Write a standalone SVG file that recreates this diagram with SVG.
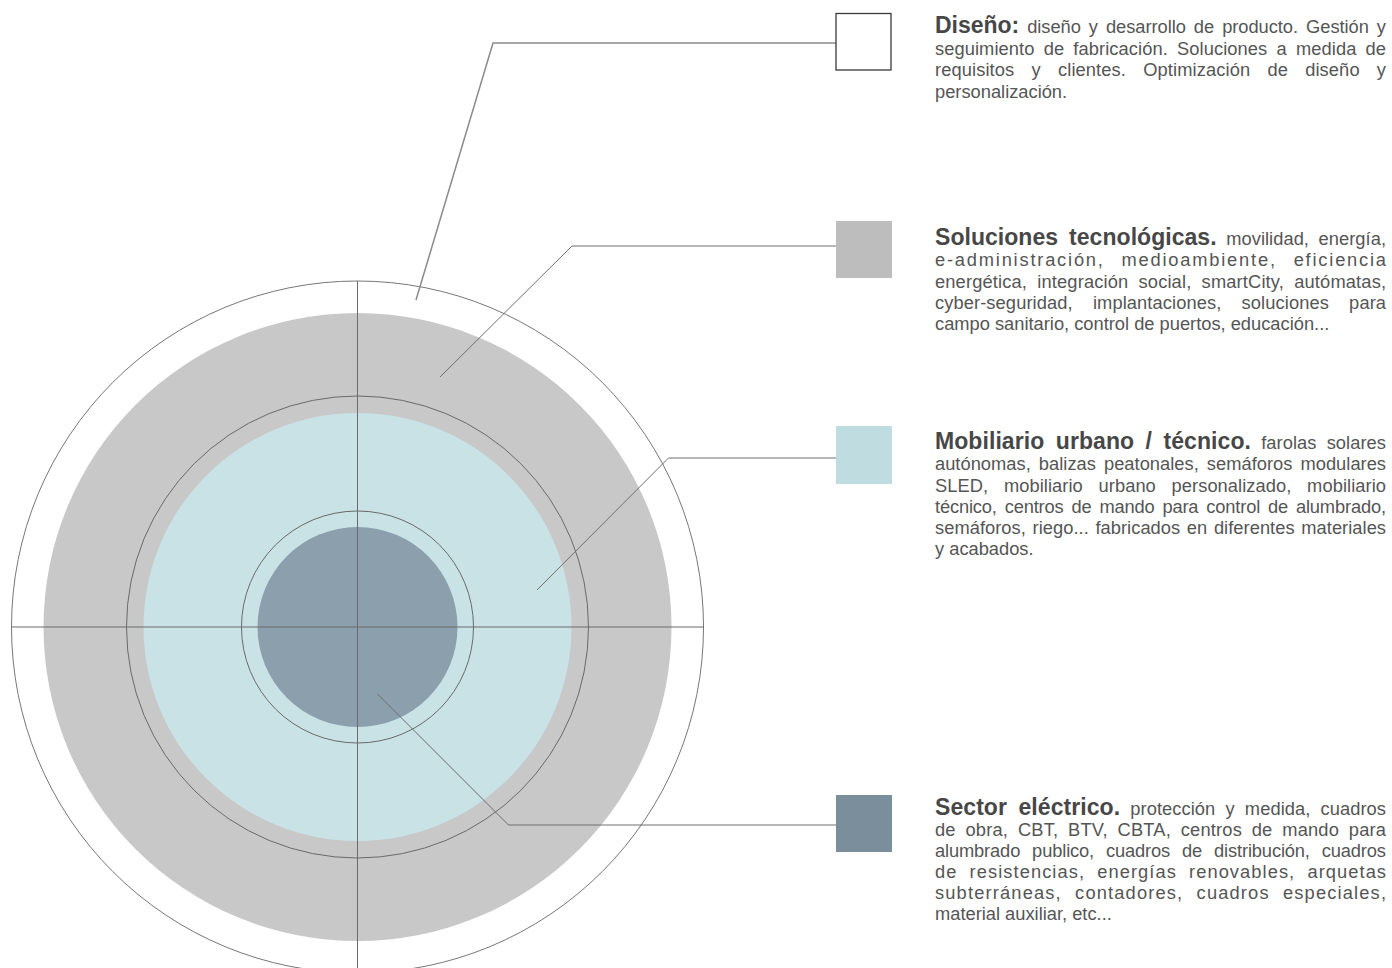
<svg xmlns="http://www.w3.org/2000/svg" width="1392" height="968" viewBox="0 0 1392 968">
<style>
text{font-family:"Liberation Sans",Arial,Helvetica,sans-serif;}
.h{font-weight:bold;font-size:23px;fill:#474747;}
.b{font-size:18.3px;fill:#555;}
.ring{fill:none;stroke:#6a6a6a;stroke-width:1;}
.cn{fill:none;stroke:#6e6e6e;stroke-width:1;}
</style>
<rect width="1392" height="968" fill="#fff"/>
<g id="target">
<circle cx="357.5" cy="627" r="346" fill="#fff" stroke="#777" stroke-width="1"/>
<circle cx="357.5" cy="627" r="314" fill="#c8c8c8"/>
<circle cx="357.5" cy="627" r="231" class="ring"/>
<circle cx="357.5" cy="627" r="214" fill="#c9e2e6"/>
<circle cx="357.5" cy="627" r="116" class="ring"/>
<circle cx="357.5" cy="627" r="100" fill="#8c9fad"/>
<line x1="11" y1="627" x2="704" y2="627" stroke="#6a6a6a" stroke-width="1"/>
<line x1="357.5" y1="281" x2="357.5" y2="968" stroke="#6a6a6a" stroke-width="1"/>
</g>
<g id="connectors">
<polyline points="416,300 493,43 836,43" fill="none" stroke="#8a8a8a" stroke-width="1.5"/>
<polyline class="cn" points="440,377 572,246 836,246"/>
<polyline class="cn" points="537,590 668.5,458 836,458"/>
<polyline class="cn" points="377.5,694 508.5,825 836,825"/>
</g>
<g id="diseno">
<rect x="836" y="13.5" width="55" height="56.5" fill="#fff" stroke="#3a3a3a" stroke-width="1.3"/>
<text x="935" y="33" textLength="451" lengthAdjust="spacing" word-spacing="3"><tspan class="h">Diseño:</tspan><tspan class="b"> diseño y desarrollo de producto. Gestión y</tspan></text>
<text class="b" x="935" y="54.5" textLength="451" lengthAdjust="spacing" word-spacing="4">seguimiento de fabricación. Soluciones a medida de</text>
<text class="b" x="935" y="76" textLength="451" lengthAdjust="spacing" word-spacing="12">requisitos y clientes. Optimización de diseño y</text>
<text class="b" x="935" y="97.5">personalización.</text>
</g>
<g id="soluciones">
<rect x="836" y="221" width="56" height="57" fill="#bdbdbd"/>
<text x="935" y="245" textLength="451" lengthAdjust="spacing" word-spacing="4.5"><tspan class="h">Soluciones tecnológicas.</tspan><tspan class="b"> movilidad, energía,</tspan></text>
<text class="b" x="935" y="266" textLength="451" lengthAdjust="spacing" word-spacing="10">e-administración, medioambiente, eficiencia</text>
<text class="b" x="935" y="287.5" textLength="451" lengthAdjust="spacing" word-spacing="5">energética, integración social, smartCity, autómatas,</text>
<text class="b" x="935" y="308.5" textLength="451" lengthAdjust="spacing" word-spacing="15">cyber-seguridad, implantaciones, soluciones para</text>
<text class="b" x="935" y="329.5">campo sanitario, control de puertos, educación...</text>
</g>
<g id="mobiliario">
<rect x="836" y="426" width="56" height="58" fill="#bfdde1"/>
<text x="935" y="448.5" textLength="451" lengthAdjust="spacing" word-spacing="5"><tspan class="h">Mobiliario urbano / técnico.</tspan><tspan class="b"> farolas solares</tspan></text>
<text class="b" x="935" y="470" textLength="451" lengthAdjust="spacing" word-spacing="3">autónomas, balizas peatonales, semáforos modulares</text>
<text class="b" x="935" y="491.5" textLength="451" lengthAdjust="spacing" word-spacing="10.5">SLED, mobiliario urbano personalizado, mobiliario</text>
<text class="b" x="935" y="513" textLength="451" lengthAdjust="spacing" word-spacing="3">técnico, centros de mando para control de alumbrado,</text>
<text class="b" x="935" y="534" textLength="451" lengthAdjust="spacing" word-spacing="1.5">semáforos, riego... fabricados en diferentes materiales</text>
<text class="b" x="935" y="555">y acabados.</text>
</g>
<g id="sector">
<rect x="836" y="795" width="56" height="57" fill="#7b8e9c"/>
<text x="935" y="814.5" textLength="451" lengthAdjust="spacing" word-spacing="5"><tspan class="h">Sector eléctrico.</tspan><tspan class="b"> protección y medida, cuadros</tspan></text>
<text class="b" x="935" y="835.5" textLength="451" lengthAdjust="spacing" word-spacing="4.5">de obra, CBT, BTV, CBTA, centros de mando para</text>
<text class="b" x="935" y="857" textLength="451" lengthAdjust="spacing" word-spacing="7">alumbrado publico, cuadros de distribución, cuadros</text>
<text class="b" x="935" y="878" textLength="451" lengthAdjust="spacing" word-spacing="6">de resistencias, energías renovables, arquetas</text>
<text class="b" x="935" y="899" textLength="451" lengthAdjust="spacing" word-spacing="7">subterráneas, contadores, cuadros especiales,</text>
<text class="b" x="935" y="920">material auxiliar, etc...</text>
</g>
</svg>
